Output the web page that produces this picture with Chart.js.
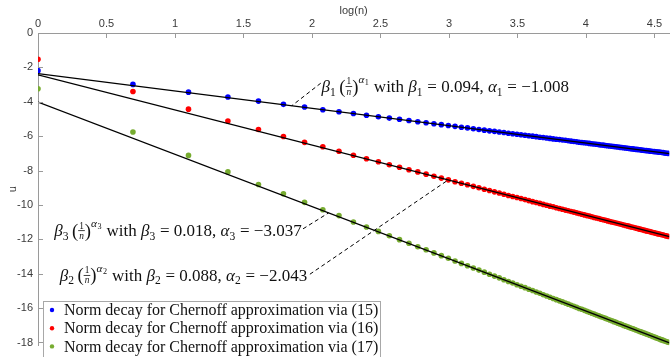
<!DOCTYPE html>
<html>
<head>
<meta charset="utf-8">
<script src="https://cdn.jsdelivr.net/npm/chart.js@4/dist/chart.umd.min.js"></script>
<style>
  html, body { margin: 0; padding: 0; background: #fff; }
  #wrap { width: 672px; height: 357px; }
</style>
</head>
<body>
<div id="wrap"><canvas id="normChart" width="672" height="357"></canvas></div>
<script>
// log(n) for n = 1..100
const logN = [
  0, 0.6931, 1.0986, 1.3863, 1.6094, 1.7918, 1.9459, 2.0794, 2.1972, 2.3026,
  2.3979, 2.4849, 2.5649, 2.6391, 2.7081, 2.7726, 2.8332, 2.8904, 2.9444, 2.9957,
  3.0445, 3.0910, 3.1355, 3.1781, 3.2189, 3.2581, 3.2958, 3.3322, 3.3673, 3.4012,
  3.4340, 3.4657, 3.4965, 3.5264, 3.5553, 3.5835, 3.6109, 3.6376, 3.6636, 3.6889,
  3.7136, 3.7377, 3.7612, 3.7842, 3.8067, 3.8286, 3.8501, 3.8712, 3.8918, 3.9120,
  3.9318, 3.9512, 3.9703, 3.9890, 4.0073, 4.0254, 4.0431, 4.0604, 4.0775, 4.0943,
  4.1109, 4.1271, 4.1431, 4.1589, 4.1744, 4.1897, 4.2047, 4.2195, 4.2341, 4.2485,
  4.2627, 4.2767, 4.2905, 4.3041, 4.3175, 4.3307, 4.3438, 4.3567, 4.3694, 4.3820,
  4.3944, 4.4067, 4.4188, 4.4308, 4.4427, 4.4543, 4.4659, 4.4773, 4.4886, 4.4998,
  4.5109, 4.5218, 4.5326, 4.5433, 4.5539, 4.5643, 4.5747, 4.5850, 4.5951, 4.6052
];

// u values
const uBlue = [
  -2.19, -2.99, -3.44, -3.72, -3.96, -4.15, -4.30, -4.46, -4.58, -4.68,
  -4.78, -4.87, -4.95, -5.02, -5.09, -5.16, -5.22, -5.28, -5.33, -5.38,
  -5.43, -5.48, -5.52, -5.57, -5.61, -5.65, -5.69, -5.72, -5.76, -5.79,
  -5.83, -5.86, -5.89, -5.92, -5.95, -5.98, -6.00, -6.03, -6.06, -6.08,
  -6.11, -6.13, -6.16, -6.18, -6.20, -6.22, -6.24, -6.27, -6.29, -6.31,
  -6.33, -6.35, -6.37, -6.38, -6.40, -6.42, -6.44, -6.46, -6.47, -6.49,
  -6.51, -6.52, -6.54, -6.56, -6.57, -6.59, -6.60, -6.62, -6.63, -6.65,
  -6.66, -6.67, -6.69, -6.70, -6.72, -6.73, -6.74, -6.76, -6.77, -6.78,
  -6.79, -6.81, -6.82, -6.83, -6.84, -6.85, -6.87, -6.88, -6.89, -6.90,
  -6.91, -6.92, -6.93, -6.94, -6.95, -6.96, -6.98, -6.99, -7.00, -7.01
];
const uRed = [
  -1.53, -3.40, -4.43, -5.12, -5.61, -6.02, -6.36, -6.62, -6.88, -7.11,
  -7.31, -7.49, -7.66, -7.81, -7.95, -8.08, -8.21, -8.33, -8.44, -8.54,
  -8.65, -8.74, -8.83, -8.92, -9.00, -9.09, -9.16, -9.24, -9.31, -9.38,
  -9.45, -9.51, -9.57, -9.63, -9.69, -9.75, -9.81, -9.86, -9.91, -9.97,
  -10.02, -10.07, -10.11, -10.16, -10.21, -10.25, -10.30, -10.34, -10.38, -10.42,
  -10.46, -10.50, -10.54, -10.58, -10.62, -10.65, -10.69, -10.73, -10.76, -10.79,
  -10.83, -10.86, -10.89, -10.93, -10.96, -10.99, -11.02, -11.05, -11.08, -11.11,
  -11.14, -11.17, -11.20, -11.22, -11.25, -11.28, -11.30, -11.33, -11.36, -11.38,
  -11.41, -11.43, -11.46, -11.48, -11.51, -11.53, -11.55, -11.58, -11.60, -11.62,
  -11.65, -11.67, -11.69, -11.71, -11.73, -11.75, -11.78, -11.80, -11.82, -11.84
];
const uGreen = [
  -3.24, -5.76, -7.12, -8.08, -8.81, -9.35, -9.85, -10.28, -10.62, -10.99,
  -11.28, -11.54, -11.79, -12.02, -12.23, -12.43, -12.61, -12.79, -12.95, -13.10,
  -13.26, -13.40, -13.54, -13.67, -13.79, -13.91, -14.03, -14.14, -14.24, -14.35,
  -14.45, -14.54, -14.64, -14.73, -14.81, -14.90, -14.98, -15.06, -15.14, -15.22,
  -15.30, -15.37, -15.44, -15.51, -15.58, -15.64, -15.71, -15.77, -15.84, -15.90,
  -15.96, -16.02, -16.07, -16.13, -16.19, -16.24, -16.30, -16.35, -16.40, -16.45,
  -16.50, -16.55, -16.60, -16.65, -16.69, -16.74, -16.79, -16.83, -16.88, -16.92,
  -16.96, -17.01, -17.05, -17.09, -17.13, -17.17, -17.21, -17.25, -17.29, -17.33,
  -17.36, -17.40, -17.44, -17.47, -17.51, -17.54, -17.58, -17.61, -17.65, -17.68,
  -17.72, -17.75, -17.78, -17.82, -17.85, -17.88, -17.91, -17.94, -17.97, -18.00
];

// fitted lines, end points at log(n) = 0 and the right edge
const fitX = [0, 4.61];
const fitBlue = [-2.36, -7.01];
const fitRed = [-2.43, -11.85];
const fitGreen = [-4.02, -18.02];

const seriesLabels = [
  "Norm decay for Chernoff approximation via (15)",
  "Norm decay for Chernoff approximation via (16)",
  "Norm decay for Chernoff approximation via (17)"
];

const xTicks = [0, 0.5, 1, 1.5, 2, 2.5, 3, 3.5, 4, 4.5];
const yTicks = [0, -2, -4, -6, -8, -10, -12, -14, -16, -18];

const BLUE = "#0000ff";
const RED = "#ff0000";
const GREEN = "#77ac30";
const AXIS = "#9a9a9a";
const TXT = "#3a3a3a";
const SERIF = "'Liberation Serif', 'DejaVu Serif', serif";
const SANS = "'Liberation Sans', Arial, sans-serif";

function pts(xs, ys) {
  return xs.map((x, i) => ({ x: x, y: ys[i] }));
}

function scatterSet(label, ys, color) {
  return {
    label: label,
    data: pts(logN, ys),
    backgroundColor: color,
    borderColor: color,
    borderWidth: 0,
    pointRadius: 2.8,
    pointHoverRadius: 2.8,
    showLine: false,
    order: 2,
  };
}

function fitSet(ys) {
  return {
    label: "",
    data: pts(fitX, ys),
    borderColor: "#000",
    borderWidth: 1.3,
    pointRadius: 0,
    showLine: true,
    fill: false,
    order: 1,
  };
}

// annotation texts: [param index, beta, alpha], anchors in data units
const notes = [
  { k: "1", beta: "0.094", alpha: "−1.008", tx: 2.07, ty: -3.42, align: "left",
    from: [2.064, -2.92], to: [1.853, -4.23] },
  { k: "3", beta: "0.018", alpha: "−3.037", tx: 1.925, ty: -11.80, align: "right",
    from: [1.935, -11.39], to: [2.122, -10.46] },
  { k: "2", beta: "0.088", alpha: "−2.043", tx: 1.965, ty: -14.40, align: "right",
    from: [1.985, -14.03], to: [2.994, -8.55] },
];

function mathParts(n) {
  return [
    { t: "β", it: true }, { t: n.k, sub: true }, { gap: 3 },
    { paren: "(" }, { frac: ["1", "n"] }, { paren: ")" },
    { t: "α", it: true, sup: true }, { t: n.k, supsub: true },
    { gap: 5 }, { t: "with " }, { t: "β", it: true }, { t: n.k, sub: true },
    { t: " = " + n.beta + ", " }, { t: "α", it: true }, { t: n.k, sub: true },
    { t: " = " + n.alpha },
  ];
}

function partFont(p, S) {
  let size = S, dy = 0;
  if (p.sub) { size = S * 0.68; dy = S * 0.22; }
  if (p.sup) { size = S * 0.66; dy = -S * 0.5; }
  if (p.supsub) { size = S * 0.48; dy = -S * 0.4; }
  if (p.paren) { size = S * 1.1; dy = S * 0.05; }
  return { font: (p.it ? "italic " : "") + size + "px " + SERIF, dy: dy };
}

function drawMath(ctx, parts, x, y, S, measureOnly) {
  let cx = x;
  parts.forEach(p => {
    if (p.gap) { cx += p.gap; return; }
    if (p.frac) {
      const fs = S * 0.55;
      ctx.font = fs + "px " + SERIF;
      const w1 = ctx.measureText(p.frac[0]).width;
      ctx.font = "italic " + fs + "px " + SERIF;
      const w2 = ctx.measureText(p.frac[1]).width;
      const w = Math.max(w1, w2) + 2;
      if (!measureOnly) {
        ctx.font = fs + "px " + SERIF;
        ctx.fillText(p.frac[0], cx + (w - w1) / 2, y - S * 0.43);
        ctx.font = "italic " + fs + "px " + SERIF;
        ctx.fillText(p.frac[1], cx + (w - w2) / 2, y + S * 0.17);
        ctx.fillRect(cx, y - S * 0.33, w, 0.8);
      }
      cx += w;
      return;
    }
    const f = partFont(p, S);
    ctx.font = f.font;
    const txt = p.paren || p.t;
    if (!measureOnly) ctx.fillText(txt, cx, y + f.dy);
    cx += ctx.measureText(txt).width;
    if (p.sup || p.sub) cx += 0.5;
  });
  return cx - x;
}

const overlay = {
  id: "overlay",
  afterDatasetsDraw(chart) {
    const ctx = chart.ctx;
    const xs = chart.scales.x, ys = chart.scales.y;
    ctx.save();
    // dashed leaders
    ctx.strokeStyle = "#000";
    ctx.lineWidth = 1;
    ctx.setLineDash([4, 3]);
    notes.forEach(n => {
      ctx.beginPath();
      ctx.moveTo(xs.getPixelForValue(n.from[0]), ys.getPixelForValue(n.from[1]));
      ctx.lineTo(xs.getPixelForValue(n.to[0]), ys.getPixelForValue(n.to[1]));
      ctx.stroke();
    });
    ctx.setLineDash([]);
    // formula labels
    ctx.fillStyle = "#111";
    ctx.textBaseline = "alphabetic";
    ctx.textAlign = "left";
    const S = 17;
    notes.forEach(n => {
      const parts = mathParts(n);
      const w = drawMath(ctx, parts, 0, 0, S, true);
      let px = xs.getPixelForValue(n.tx);
      if (n.align === "right") px -= w;
      drawMath(ctx, parts, px, ys.getPixelForValue(n.ty), S, false);
    });
    ctx.restore();
  },
  afterDraw(chart) {
    const ctx = chart.ctx;
    const area = chart.chartArea;
    const xs = chart.scales.x, ys = chart.scales.y;
    ctx.save();
    // inward tick marks
    ctx.strokeStyle = AXIS;
    ctx.lineWidth = 1;
    ctx.beginPath();
    xTicks.forEach(v => {
      const px = Math.round(xs.getPixelForValue(v)) + 0.5;
      ctx.moveTo(px, area.top);
      ctx.lineTo(px, area.top + 5);
    });
    yTicks.forEach(v => {
      const py = Math.round(ys.getPixelForValue(v)) + 0.5;
      ctx.moveTo(area.left, py);
      ctx.lineTo(area.left + 5, py);
    });
    ctx.stroke();

    // legend box in lower left
    const bx = 43.5, by = 301.5, bw = 337, bh = 70;
    ctx.fillStyle = "#fff";
    ctx.fillRect(bx, by, bw, bh);
    ctx.strokeStyle = "#a8a8a8";
    ctx.strokeRect(bx, by, bw, bh);
    const colors = [BLUE, RED, GREEN];
    ctx.font = "16px " + SERIF;
    ctx.textBaseline = "middle";
    seriesLabels.forEach((lab, i) => {
      const cy = 310 + i * 18.2;
      ctx.fillStyle = colors[i];
      ctx.beginPath();
      ctx.arc(52, cy, 2.2, 0, Math.PI * 2);
      ctx.fill();
      ctx.fillStyle = "#111";
      ctx.fillText(lab, 64, cy + 1);
    });
    ctx.restore();
  }
};

const ctx = document.getElementById("normChart").getContext("2d");

new Chart(ctx, {
  type: "scatter",
  data: {
    datasets: [
      fitSet(fitBlue),
      fitSet(fitRed),
      fitSet(fitGreen),
      scatterSet(seriesLabels[0], uBlue, BLUE),
      scatterSet(seriesLabels[1], uRed, RED),
      scatterSet(seriesLabels[2], uGreen, GREEN),
    ],
  },
  options: {
    responsive: false,
    animation: false,
    events: [],
    layout: { padding: 0 },
    scales: {
      x: {
        type: "linear",
        position: "top",
        min: 0,
        max: 4.608,
        afterBuildTicks: s => { s.ticks = xTicks.map(v => ({ value: v })); },
        afterFit: s => { s.height = 33; },
        ticks: {
          color: TXT,
          font: { family: SANS, size: 11 },
          padding: 2,
          maxRotation: 0,
          callback: v => String(v),
        },
        grid: { display: true, drawOnChartArea: false, drawTicks: false },
        border: { display: true, color: AXIS, width: 1 },
        title: {
          display: true,
          text: "log(n)",
          color: TXT,
          font: { family: SANS, size: 11 },
          padding: { top: 4, bottom: 0 },
        },
      },
      y: {
        type: "linear",
        min: -18.17,
        max: 0,
        afterBuildTicks: s => { s.ticks = yTicks.map(v => ({ value: v })); },
        afterFit: s => { s.width = 38; },
        ticks: {
          color: TXT,
          font: { family: SANS, size: 11 },
          padding: 5,
          callback: v => String(v),
        },
        grid: { display: true, drawOnChartArea: false, drawTicks: false },
        border: { display: true, color: AXIS, width: 1 },
        title: {
          display: true,
          text: "u",
          color: TXT,
          font: { family: SANS, size: 11 },
          padding: { top: 6, bottom: 0 },
        },
      },
    },
    plugins: {
      legend: { display: false },
      tooltip: { enabled: false },
    },
  },
  plugins: [overlay],
});
</script>
</body>
</html>
